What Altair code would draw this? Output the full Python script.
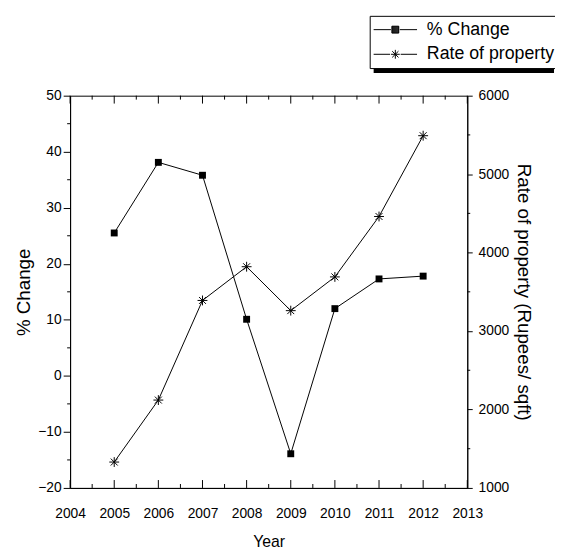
import altair as alt
import pandas as pd

# ---- data ----
years = [2005, 2006, 2007, 2008, 2009, 2010, 2011, 2012]
pct_change = [25.5, 38.1, 35.8, 10.1, -13.9, 12.0, 17.3, 17.8]
rate = [1330, 2120, 3390, 3820, 3260, 3690, 4460, 5490]
series_names = ["% Change", "Rate of property"]

x_major = list(range(2004, 2014))
x_minor = [2004.5, 2005.5, 2006.5, 2007.5, 2008.5, 2009.5, 2010.5, 2011.5, 2012.5]
left_major = [-20, -10, 0, 10, 20, 30, 40, 50]
left_minor = [-15, -5, 5, 15, 25, 35, 45]
right_major = [1000, 2000, 3000, 4000, 5000, 6000]
right_minor = [1500, 2500, 3500, 4500, 5500]

W, H = 403, 398
FONT = "Liberation Sans"

pct_df = pd.DataFrame({"year": years, "pct": pct_change})
rate_df = pd.DataFrame({"year": years, "rate": rate})
leg_df = pd.DataFrame({"series": series_names})

xscale = alt.Scale(domain=[2004, 2013], nice=False, zero=False)
lscale = alt.Scale(domain=[-20, 50], nice=False, zero=False)
rscale = alt.Scale(domain=[1000, 6000], nice=False, zero=False)

xaxis = alt.Axis(title="Year", values=x_major, ticks=False, format="d",
                 labelPadding=19, labelFlush=False, titleFontSize=16,
                 titlePadding=13, orient="bottom")
laxis = alt.Axis(title="% Change", values=left_major, tickSize=7, labelPadding=2,
                 labelFlush=False, titleFontSize=19, titlePadding=4, orient="left",
                 format="d")
raxis = alt.Axis(title="Rate of property (Rupees/ sqft)", values=right_major, tickSize=5,
                 labelPadding=6, labelFlush=False, titleFontSize=19, titlePadding=5,
                 orient="right", format="d")

def X(f):
    return alt.X(f, scale=xscale, axis=xaxis)

star_path = "M-1,0H1M0,-1V1M-0.7,-0.7L0.7,0.7M-0.7,0.7L0.7,-0.7"

# left series
pct_line = alt.Chart(pct_df).mark_line(color="black", strokeWidth=1).encode(
    x=X("year:Q"), y=alt.Y("pct:Q", scale=lscale, axis=laxis))
pct_pts = alt.Chart(pct_df).mark_point(shape="square", filled=True, size=49,
                                       color="black", opacity=1).encode(
    x=X("year:Q"), y=alt.Y("pct:Q", scale=lscale, axis=laxis))
lminor = alt.Chart(pd.DataFrame({"v": left_minor})).mark_rule(color="black").encode(
    y=alt.Y("v:Q", scale=lscale, axis=laxis), x=alt.value(0), x2=alt.value(-3))

xmaj_df = pd.DataFrame({"v": x_major})
xmin_df = pd.DataFrame({"v": x_minor})
top_major = alt.Chart(xmaj_df).mark_rule(color="black").encode(
    x=X("v:Q"), y=alt.value(0), y2=alt.value(8))
top_minor = alt.Chart(xmin_df).mark_rule(color="black").encode(
    x=X("v:Q"), y=alt.value(0), y2=alt.value(4))
bot_major = alt.Chart(xmaj_df).mark_rule(color="black").encode(
    x=X("v:Q"), y=alt.value(H), y2=alt.value(H - 8))
bot_minor = alt.Chart(xmin_df).mark_rule(color="black").encode(
    x=X("v:Q"), y=alt.value(H), y2=alt.value(H - 4))

left_layer = alt.layer(pct_line, pct_pts, lminor, top_major, top_minor,
                       bot_major, bot_minor)

# right series
rate_line = alt.Chart(rate_df).mark_line(color="black", strokeWidth=1).encode(
    x=X("year:Q"), y=alt.Y("rate:Q", scale=rscale, axis=raxis))
rate_pts = alt.Chart(rate_df).mark_point(shape=star_path, filled=False, size=100,
                                         color="black", strokeWidth=1, opacity=1).encode(
    x=X("year:Q"), y=alt.Y("rate:Q", scale=rscale, axis=raxis))
rminor = alt.Chart(pd.DataFrame({"v": right_minor})).mark_rule(color="black").encode(
    y=alt.Y("v:Q", scale=rscale, axis=raxis), x=alt.value(W), x2=alt.value(W + 3))

right_layer = alt.layer(rate_line, rate_pts, rminor)

# legend symbols: line - marker - line (square drawn as outline + hatch so it looks solid)
hatch = "".join(f"M{x:.3f},-0.58V0.58" for x in [1.5, 1.667, 1.833, 2.0, 2.167, 2.333, 2.5])
leg_sq = "M-1.67,0H1.25M1.42,-0.58H2.58V0.58H1.42ZM2.75,0H5.67" + hatch
leg_star = ("M-1.67,0H1.1M2.9,0H5.67M1.25,0H2.75M2,-0.75V0.75"
            "M1.47,-0.53L2.53,0.53M1.47,0.53L2.53,-0.53")
LX, LY = 304, -81
legend_layer = alt.Chart(leg_df).mark_point(filled=False, color="black").encode(
    shape=alt.Shape("series:N",
                    scale=alt.Scale(domain=series_names, range=[leg_sq, leg_star]),
                    legend=alt.Legend(title=None, orient="none", legendX=LX, legendY=LY,
                                      strokeColor="black", fillColor="white", padding=5,
                                      symbolSize=144, symbolStrokeColor="black",
                                      symbolStrokeWidth=1,
                                      labelFontSize=18, labelFont=FONT, labelColor="black",
                                      labelOffset=35, rowPadding=7, cornerRadius=0,
                                      symbolOpacity=1))
).transform_filter("false")

shadow = alt.Chart(leg_df.head(1)).mark_rect(color="black").encode(
    x=alt.value(LX + 4), x2=alt.value(LX + 187), y=alt.value(LY + 4), y2=alt.value(LY + 58))

chart = alt.layer(shadow, left_layer, right_layer, legend_layer).resolve_scale(
    y="independent"
).properties(
    width=W, height=H,
    autosize=alt.AutoSizeParams(type="none"),
    padding={"left": 63, "top": 85, "right": 89, "bottom": 59},
).configure_view(
    stroke="black", strokeWidth=1
).configure_axis(
    grid=False, labelFont=FONT, titleFont=FONT, labelFontSize=14,
    labelColor="black", titleColor="black", domainColor="black", tickColor="black",
    titleFontWeight="normal", labelFontWeight="normal", domainWidth=1, tickWidth=1
)

chart.save("out.html", embed_options={"renderer": "svg", "actions": False})
